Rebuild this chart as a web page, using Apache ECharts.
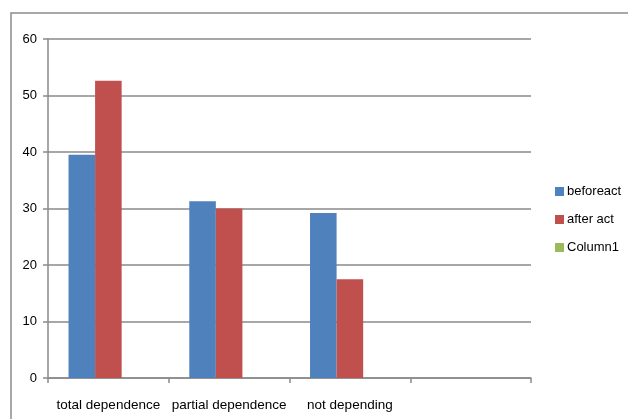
<!DOCTYPE html>
<html>
<head>
<meta charset="utf-8">
<script src="https://cdn.jsdelivr.net/npm/echarts@6/dist/echarts.min.js"></script>
<style>
  html, body { margin: 0; padding: 0; background: #fff; }
  #chart { width: 628px; height: 419px; }
</style>
</head>
<body>
<div id="chart"></div>
<script>
// Categories on the x axis (the fourth slot is left blank)
const categories = ['total dependence', 'partial dependence', 'not depending', ''];

// Series values (percent)
const beforeAct = [39.5, 31.3, 29.2, '-'];
const afterAct = [52.6, 30.0, 17.5, '-'];
const column1 = ['-', '-', '-', '-'];

// Value axis range
const yMin = 0;
const yMax = 60;
const yStep = 10;

const FONT = "'Liberation Sans', Arial, sans-serif";
const LINE = '#8a8a8a';

const chart = echarts.init(document.getElementById('chart'), null, { renderer: 'canvas' });

chart.setOption({
  backgroundColor: '#fff',
  animation: false,
  textStyle: { fontFamily: FONT },
  graphic: [{
    type: 'rect',
    shape: { x: 11, y: 13, width: 800, height: 600 },
    style: { fill: 'none', stroke: '#8c8c8c', lineWidth: 1.5 },
    silent: true,
    z: -1
  }],
  grid: { left: 48, right: 97, top: 39, bottom: 41, containLabel: false },
  legend: {
    orient: 'vertical',
    left: 550,
    top: 179,
    itemWidth: 9,
    itemHeight: 9,
    itemGap: 13,
    icon: 'rect',
    textStyle: { fontFamily: FONT, fontSize: 13, color: '#000', lineHeight: 15, padding: [0, 0, 0, -2] },
    data: ['beforeact', 'after act', 'Column1']
  },
  xAxis: {
    type: 'category',
    data: categories,
    axisLine: { lineStyle: { color: LINE, width: 1.5 } },
    axisTick: { show: true, alignWithLabel: false, interval: 0, length: 5, lineStyle: { color: LINE, width: 1.5 } },
    axisLabel: { interval: 0, margin: 20, fontSize: 13.5, color: '#000', fontFamily: FONT },
    splitLine: { show: false }
  },
  yAxis: {
    type: 'value',
    min: yMin,
    max: yMax,
    interval: yStep,
    axisLine: { show: true, lineStyle: { color: LINE, width: 1.5 } },
    axisTick: { show: true, length: 5, lineStyle: { color: LINE, width: 1.5 } },
    axisLabel: { margin: 11, fontSize: 13, color: '#000', fontFamily: FONT },
    splitLine: { show: true, lineStyle: { color: LINE, width: 1.5 } }
  },
  series: [
    { name: 'beforeact', type: 'bar', data: beforeAct, barGap: '0%', barCategoryGap: '34%',
      itemStyle: { color: '#4F81BD' } },
    { name: 'after act', type: 'bar', data: afterAct, barGap: '0%', barCategoryGap: '34%',
      itemStyle: { color: '#C0504D' } },
    { name: 'Column1', type: 'bar', data: column1, barGap: '0%', barCategoryGap: '34%',
      itemStyle: { color: '#9BBB59' } }
  ]
});
</script>
</body>
</html>
